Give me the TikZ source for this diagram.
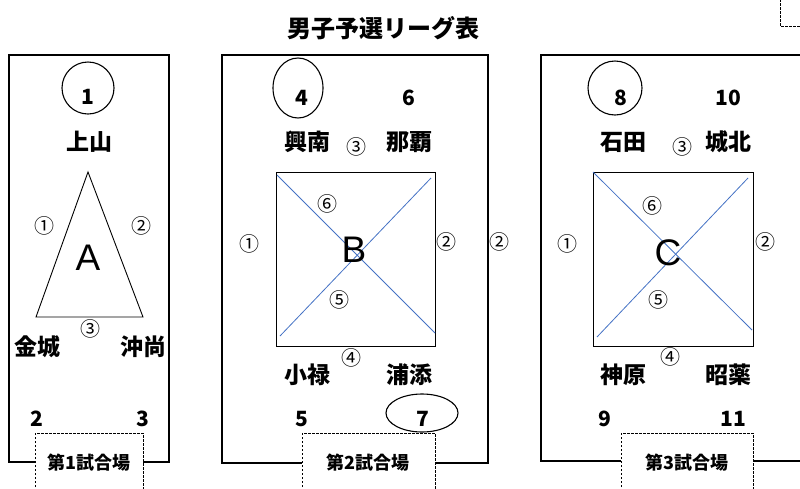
\documentclass[tikz,border=0pt]{standalone}
\usepackage{fontspec}
\setmainfont{Noto Sans CJK JP}
\newfontfamily\grpfont{Liberation Sans}
\usepackage{tikz}
\definecolor{diagblue}{RGB}{68,114,196}

\begin{document}
\begin{tikzpicture}[x=1pt,y=1pt]
\tikzstyle{every node}+=[inner sep=0pt]
\tikzstyle{frame}=[black, line width=1.8pt]
\tikzstyle{court}=[black, line width=0.7pt, dash pattern=on 2.5pt off 1.5pt]
\tikzstyle{pitch}=[black, line width=0.9pt]
\tikzstyle{diag}=[diagblue, line width=0.8pt]
\tikzstyle{title}=[font=\bfseries\fontsize{24}{24}\selectfont]
\tikzstyle{team}=[font=\bfseries\fontsize{23}{23}\selectfont]
\tikzstyle{seed}=[font=\bfseries\fontsize{21}{21}\selectfont]
\tikzstyle{game}=[font=\fontsize{20}{20}\selectfont]
\tikzstyle{grp}=[font=\grpfont\fontsize{37}{37}\selectfont]
\tikzstyle{venue}=[font=\bfseries\fontsize{18}{18}\selectfont]
\useasboundingbox (0,0) rectangle (800,-488);
\clip (0,0) rectangle (800,-488);
\draw (383,-28) node [title] (title) {男子予選リーグ表};
\draw [court] (780,5) -- (780,-26) -- (810,-26);
\draw [frame] (35,-462) -- (9,-462) -- (9,-55) -- (169,-55) -- (169,-462) -- (143,-462);
\draw [court] (35,-495) -- (35,-433) -- (143,-433) -- (143,-495);
\draw [black, line width=1.1pt] (88,-88) circle (26);
\draw (88,-97) node [seed] (s1) {1};
\draw (89,-142) node [team] (kamiyama) {上山};
\draw [pitch] (88,-172) -- (36,-317) -- (143,-317) -- cycle;
\draw (88,-258) node [grp] (grpA) {A};
\draw (44,-226) node [game] (a1) {①};
\draw (141,-226) node [game] (a2) {②};
\draw (90,-329) node [game] (a3) {③};
\draw (37,-347) node [team] (kinjo) {金城};
\draw (143,-347) node [team] (okisho) {沖尚};
\draw (37,-419) node [seed] (s2) {2};
\draw (143,-419) node [seed] (s3) {3};
\draw (89,-463) node [venue] (venue1) {第1試合場};
\draw [frame] (302,-463) -- (222,-463) -- (222,-55) -- (488,-55) -- (488,-463) -- (435,-463);
\draw [court] (302,-495) -- (302,-433) -- (435,-433) -- (435,-495);
\draw [black, line width=1.1pt] (298,-88) ellipse [x radius=25, y radius=30];
\draw (302,-98) node [seed] (s4) {4};
\draw (409,-98) node [seed] (s6) {6};
\draw (307,-142) node [team] (konan) {興南};
\draw (356,-147) node [game] (b3) {③};
\draw (409,-142) node [team] (naha) {那覇};
\draw [pitch] (276,-172) rectangle (435,-346);
\draw [diag] (277,-175) -- (435,-333);
\draw [diag] (431,-178) -- (280,-336);
\draw (354,-250) node [grp] (grpB) {B};
\draw (327,-204) node [game] (b6) {⑥};
\draw (339,-300) node [game] (b5) {⑤};
\draw (249,-244) node [game] (b1) {①};
\draw (446,-242) node [game] (b2) {②};
\draw (499,-242) node [game] (b2out) {②};
\draw (351,-358) node [game] (b4) {④};
\draw (307,-375) node [team] (oroku) {小禄};
\draw (409,-375) node [team] (urasoe) {浦添};
\draw (302,-419) node [seed] (s5) {5};
\draw [black, line width=1.1pt] (422,-413) ellipse [x radius=36, y radius=19];
\draw (423,-419) node [seed] (s7) {7};
\draw (368,-463) node [venue] (venue2) {第2試合場};
\draw [frame] (621,-461) -- (541,-461) -- (541,-55) -- (810,-55);
\draw [frame] (753,-461) -- (810,-461);
\draw [court] (621,-495) -- (621,-433) -- (753,-433) -- (753,-495);
\draw [black, line width=1.1pt] (615,-88) circle (27);
\draw (621,-98) node [seed] (s8) {8};
\draw (728,-98) node [seed] (s10) {10};
\draw (623,-142) node [team] (ishida) {石田};
\draw (682,-147) node [game] (c3) {③};
\draw (728,-142) node [team] (johoku) {城北};
\draw [pitch] (593,-172) rectangle (753,-346);
\draw [diag] (593,-172) -- (752,-330);
\draw [diag] (748,-178) -- (597,-337);
\draw (668,-253) node [grp] (grpC) {C};
\draw (652,-206) node [game] (c6) {⑥};
\draw (658,-300) node [game] (c5) {⑤};
\draw (567,-244) node [game] (c1) {①};
\draw (765,-242) node [game] (c2) {②};
\draw (670,-357) node [game] (c4) {④};
\draw (623,-375) node [team] (kanbaru) {神原};
\draw (728,-375) node [team] (shoyaku) {昭薬};
\draw (605,-419) node [seed] (s9) {9};
\draw (733,-419) node [seed] (s11) {11};
\draw (687,-463) node [venue] (venue3) {第3試合場};
\end{tikzpicture}
\end{document}
